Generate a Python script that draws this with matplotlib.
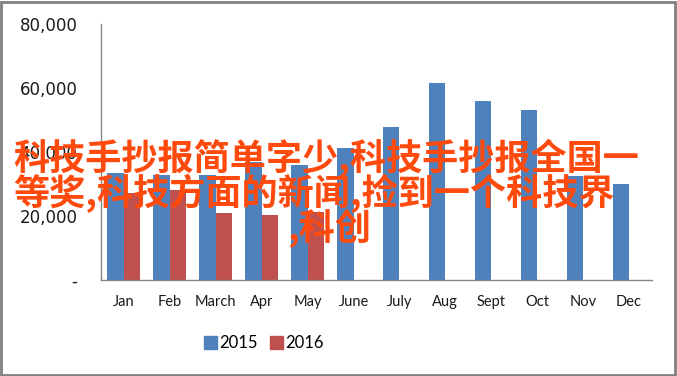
import matplotlib
matplotlib.use("Agg")
import matplotlib.pyplot as plt
import numpy as np
from matplotlib.patches import Rectangle, Patch

months = ["Jan", "Feb", "March", "Apr", "May", "June", "July", "Aug", "Sept", "Oct", "Nov", "Dec"]
sales_2015 = [33500, 32800, 32800, 37000, 35900, 41200, 47800, 61500, 55900, 53100, 32600, 30000]
sales_2016 = [27300, 28000, 21000, 20300, 21200]
series_names = ["2015", "2016"]
y_ticks = [0, 20000, 40000, 60000, 80000]
y_tick_labels = ["-", "20,000", "40,000", "60,000", "80,000"]
overlay_lines = ["科技手抄报简单字少,科技手抄报全国一", "等奖,科技方面的新闻,捡到一个科技界", ",科创"]

BLUE = "#4F81BD"
RED = "#C0504D"
ORANGE = "#FF4A0E"
W, H = 677, 376

fig = plt.figure(figsize=(W / 100, H / 100), dpi=100)
ax = fig.add_axes([101 / W, 1 - 280 / H, (652 - 101) / W, (280 - 24) / H])

x = np.arange(len(months))
bw = 0.36
ax.bar(x - bw / 2, sales_2015, width=bw, color=BLUE, zorder=2)
ax.bar(np.arange(len(sales_2016)) + bw / 2, sales_2016, width=bw, color=RED, zorder=2)

ax.set_xlim(-0.5, len(months) - 0.5)
ax.set_ylim(0, 80000)
ax.set_yticks(y_ticks)
ax.set_yticklabels(y_tick_labels, family="DejaVu Sans", fontsize=12, color="#1a1a1a")
ax.set_xticks(x)
ax.set_xticklabels(months, family=["Lato", "DejaVu Sans"], fontsize=10.5, color="#1a1a1a")
ax.tick_params(axis="both", length=0)
ax.tick_params(axis="y", pad=17)
ax.tick_params(axis="x", pad=11)
for s in ["top", "right"]:
    ax.spines[s].set_visible(False)
for s in ["left", "bottom"]:
    ax.spines[s].set_color("#868686")
    ax.spines[s].set_linewidth(1)

handles = [Patch(color=BLUE), Patch(color=RED)]
fig.legend(handles, series_names, loc="center", bbox_to_anchor=(264 / W, 1 - 343 / H), ncol=2,
           frameon=False, prop={"family": ["Lato", "DejaVu Sans"], "size": 12},
           handlelength=0.8, handleheight=0.8, handletextpad=0.15, columnspacing=0.7)

# outer border
fig.patches.append(Rectangle((1 / W, 1 / H), 1 - 3 / W, 1 - 3 / H, transform=fig.transFigure,
                             fill=False, edgecolor="#808080", linewidth=2))

# overlay text
cjk = ["Noto Sans CJK SC", "DejaVu Sans"]
positions = [(13, 158), (13, 193), (287, 229)]
for line, (px, py) in zip(overlay_lines, positions):
    fig.text(px / W, 1 - py / H, line, ha="left", va="center", family=cjk,
             fontsize=26, fontweight="bold", color=ORANGE, zorder=10)

fig.savefig("out.png", dpi=100)
